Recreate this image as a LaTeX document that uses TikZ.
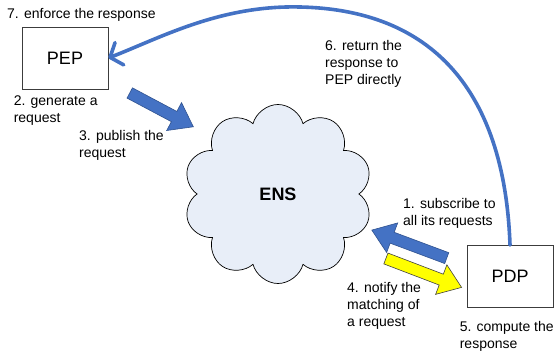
\documentclass[tikz,border=0pt]{standalone}
\usepackage{fontspec}
\setmainfont{Liberation Sans}
\usetikzlibrary{arrows.meta,positioning,shapes.symbols,shapes.arrows}
\definecolor{flowblue}{RGB}{68,114,196}
\definecolor{flowblueline}{RGB}{47,82,143}
\definecolor{flowyellow}{RGB}{255,255,0}
\definecolor{cloudfill}{RGB}{232,238,248}
\definecolor{boxline}{RGB}{60,60,60}
\tikzset{
  entitybox/.style={rectangle, draw=boxline, line width=0.8pt, fill=white,
                    minimum width=86pt, minimum height=62pt, inner sep=0pt,
                    font=\fontsize{18}{20}\selectfont},
  enscloud/.style={cloud, draw=black, line width=0.7pt, fill=cloudfill,
                   cloud puffs=10, cloud puff arc=150, aspect=1.05,
                   minimum width=189pt, minimum height=179pt, inner sep=0pt,
                   font=\fontsize{18}{20}\selectfont\bfseries},
  blockarrow/.style={single arrow, draw=flowblueline, fill=flowblue,
                     line width=0.6pt, inner sep=0pt,
                     text height=5.5pt, text depth=5.5pt,
                     single arrow head extend=10pt, single arrow tip angle=72},
  blockarrowyellow/.style={blockarrow, draw=black!75, fill=flowyellow},
  returnarc/.style={-{Straight Barb[length=10pt,width=24pt,round]},
                    line width=3.6pt, color=flowblue, line cap=round},
  stepnote/.style={font=\fontsize{14}{17}\selectfont, align=left,
                   inner sep=0pt, anchor=north west},
}
\begin{document}
\begin{tikzpicture}[x=1pt, y=-1pt]
  \useasboundingbox (0,0) rectangle (554,354);
  % entities
  \node[entitybox] (pep) at (65,58) {PEP};
  \node[entitybox] (pdp) at (510,276.5) {PDP};
  \node[enscloud] (ens) at (278,194) {ENS};
  % block arrows
  \node[blockarrow, minimum height=72pt, rotate=-28] (publish) at (158,108) {};
  \node[blockarrow, minimum height=80pt, rotate=159.5] (subscribe) at (413,245.5) {};
  \node[blockarrowyellow, minimum height=81pt, rotate=-20.9] (notify) at (420,271.5) {};
  % direct response
  \draw[returnarc] (pdp.north) .. controls (505,100) and (440,10) .. (300,7)
                   .. controls (220,5) and (160,38) .. (pep.east);
  % step labels
  \node[stepnote] (enforce) at (7,8) {7. enforce the response};
  \node[stepnote, below=6pt of pep.south west, anchor=north west, xshift=-8pt] (generate) {2. generate a\\request};
  \node[stepnote] (publishlbl) at (79,130) {3. publish the\\request};
  \node[stepnote] (returnlbl) at (325,40) {6. return the\\response to\\PEP directly};
  \node[stepnote] (subscribelbl) at (403,198) {1. subscribe to\\all its requests};
  \node[stepnote] (notifylbl) at (347,282) {4. notify the\\matching of\\a request};
  \node[stepnote, below=13pt of pdp.south west, anchor=north west, xshift=-7pt] (compute) {5. compute the\\response};
\end{tikzpicture}
\end{document}
